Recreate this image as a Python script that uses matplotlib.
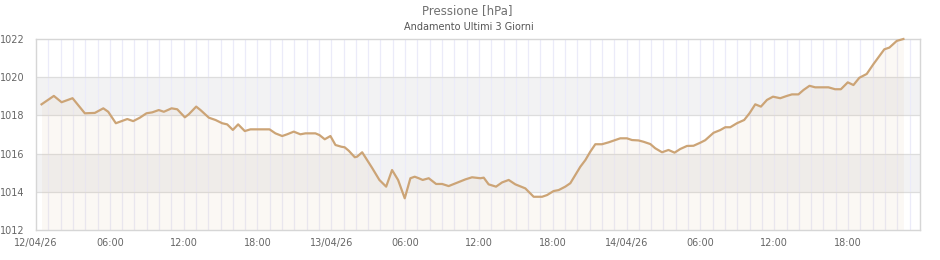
import matplotlib
matplotlib.use("Agg")
import matplotlib.pyplot as plt
from matplotlib.ticker import FixedLocator, FuncFormatter

# hours since 12/04/26 00:00
hours = [0.45, 1.45, 2.08, 2.97, 3.97, 4.78, 5.47, 5.87, 6.49, 6.95, 7.42, 7.90, 8.44, 8.98,
         9.45, 9.98, 10.39, 11.02, 11.48, 12.10, 12.42, 13.02, 13.37, 14.05, 14.59, 15.13,
         15.54, 16.00, 16.43, 16.97, 17.43, 18.98, 19.46, 20.01, 20.41, 20.95, 21.49, 21.90,
         22.71, 23.04, 23.47, 23.93, 24.34, 24.82, 25.09, 25.42, 25.91, 26.10, 26.51, 27.32,
         27.91, 28.46, 28.94, 29.43, 29.97, 30.43, 30.78, 31.11, 31.43, 31.92, 32.52, 33.01,
         33.54, 34.09, 34.90, 35.44, 36.12, 36.39, 36.79, 37.39, 37.88, 38.42, 38.96, 39.77,
         40.45, 41.13, 41.54, 42.07, 42.48, 43.02, 43.43, 43.83, 44.24, 44.65, 45.05, 45.46,
         46.00, 46.54, 47.08, 47.49, 48.03, 48.44, 48.97, 49.38, 49.93, 50.33, 50.88, 51.41,
         51.90, 52.36, 52.91, 53.44, 53.99, 54.39, 55.07, 55.61, 56.02, 56.43, 56.97, 57.56,
         57.99, 58.46, 58.92, 59.41, 59.90, 60.49, 61.03, 61.44, 61.97, 62.38, 62.87, 63.33,
         64.41, 64.95, 65.42, 65.98, 66.44, 66.92, 67.52, 68.06, 68.95, 69.36, 69.96, 70.50]
pressure = [1018.58, 1019.02, 1018.69, 1018.90, 1018.11, 1018.13, 1018.37, 1018.19, 1017.59,
            1017.70, 1017.81, 1017.70, 1017.88, 1018.11, 1018.16, 1018.28, 1018.19, 1018.37,
            1018.32, 1017.90, 1018.06, 1018.46, 1018.28, 1017.88, 1017.76, 1017.59, 1017.53,
            1017.24, 1017.53, 1017.18, 1017.27, 1017.27, 1017.06, 1016.92, 1017.01, 1017.15,
            1017.01, 1017.06, 1017.06, 1016.97, 1016.75, 1016.92, 1016.45, 1016.36, 1016.33,
            1016.15, 1015.81, 1015.84, 1016.07, 1015.25, 1014.62, 1014.27, 1015.14, 1014.62,
            1013.66, 1014.71, 1014.79, 1014.71, 1014.62, 1014.71, 1014.41, 1014.41, 1014.30,
            1014.44, 1014.65, 1014.76, 1014.71, 1014.74, 1014.39, 1014.27, 1014.49, 1014.62,
            1014.39, 1014.18, 1013.74, 1013.74, 1013.83, 1014.04, 1014.09, 1014.27, 1014.45,
            1014.88, 1015.31, 1015.66, 1016.10, 1016.49, 1016.49, 1016.59, 1016.71, 1016.80,
            1016.80, 1016.71, 1016.69, 1016.62, 1016.50, 1016.28, 1016.07, 1016.19, 1016.05,
            1016.24, 1016.40, 1016.41, 1016.57, 1016.70, 1017.09, 1017.23, 1017.38, 1017.38,
            1017.59, 1017.76, 1018.11, 1018.58, 1018.46, 1018.81, 1018.98, 1018.90, 1019.02,
            1019.10, 1019.10, 1019.33, 1019.55, 1019.47, 1019.47, 1019.37, 1019.37, 1019.73,
            1019.59, 1019.97, 1020.17, 1020.68, 1021.46, 1021.55, 1021.90, 1022.00]

day_labels = ["12/04/26", "13/04/26", "14/04/26"]
x_ticks = [0, 6, 12, 18, 24, 30, 36, 42, 48, 54, 60, 66]
y_ticks = [1012, 1014, 1016, 1018, 1020, 1022]
bands = [(1014, 1016), (1018, 1020)]

line_col = "#cca476"
text_col = "#666666"

fig = plt.figure(figsize=(9.4, 2.6), dpi=100)
ax = fig.add_axes([36 / 940, 1 - 230 / 260, 884 / 940, 191 / 260])

for lo, hi in bands:
    ax.axhspan(lo, hi, color="#f2f2f3", zorder=0, lw=0)

# hourly vertical grid
for h in range(1, 72):
    ax.axvline(h, color="#ebebf9", lw=0.9, zorder=1)
for y in y_ticks[1:-1]:
    ax.axhline(y, color="#dddddd", lw=0.9, zorder=1)

ax.fill_between(hours, pressure, 1012, color="#d9b48a", alpha=0.09, lw=0, zorder=2)
ax.plot(hours, pressure, color=line_col, lw=1.6, zorder=3, clip_on=False)

ax.set_xlim(0, 71.85)
ax.set_ylim(1012, 1022)


def fmt_x(h, pos):
    h = int(round(h))
    if h % 24 == 0:
        return day_labels[h // 24]
    return "%02d:00" % (h % 24)


ax.xaxis.set_major_locator(FixedLocator(x_ticks))
ax.xaxis.set_major_formatter(FuncFormatter(fmt_x))
ax.set_yticks(y_ticks)
ax.tick_params(length=0, labelsize=7, labelcolor=text_col)
ax.tick_params(axis="y", pad=8)
ax.tick_params(axis="x", pad=6)
for s in ax.spines.values():
    s.set_color("#d6d6d6")
    s.set_linewidth(1)

fig.text(0.497, 0.958, "Pressione [hPa]", ha="center", va="center", fontsize=8.5, color="#707070")
fig.text(0.499, 0.896, "Andamento Ultimi 3 Giorni", ha="center", va="center", fontsize=7, color="#555555")

fig.savefig("out.png", dpi=100)
